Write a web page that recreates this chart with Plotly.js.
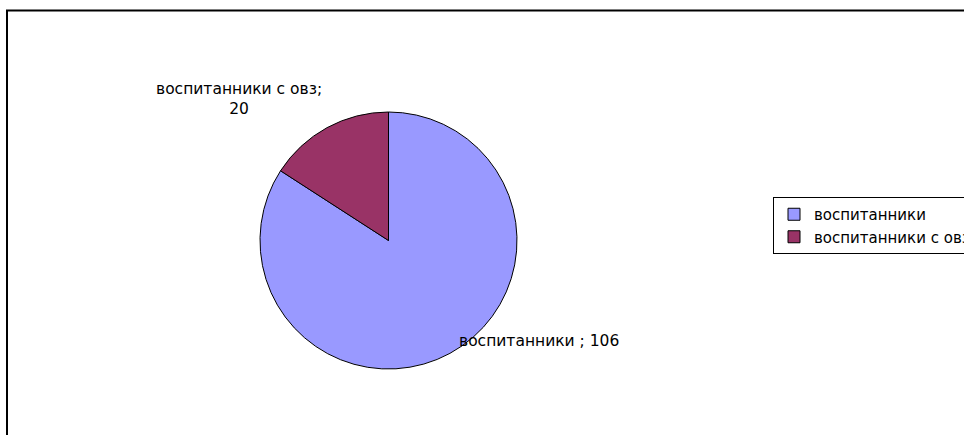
<!DOCTYPE html>
<html>
<head>
<meta charset="utf-8">
<script src="https://cdn.plot.ly/plotly-3.0.1.min.js"></script>
<style>html,body{margin:0;padding:0;background:#fff}#chart{width:964px;height:435px}</style>
</head>
<body>
<div id="chart"></div>
<script>
var categories = ["воспитанники", "воспитанники с овз"];
var labelNames = ["воспитанники ", "воспитанники с овз"];
var values = [106, 20];
var colors = ["#9999FF", "#993366"];

var W = 964, H = 435;
function px(x){return x / W;}
function py(y){return (H - y) / H;}

var cx = 388.5, cy = 240.5, r = 128.5;

var trace = {
  type: "pie",
  labels: categories,
  values: values,
  sort: false,
  direction: "clockwise",
  rotation: 0,
  textinfo: "none",
  hoverinfo: "label+value",
  marker: {colors: colors, line: {color: "#000000", width: 1}},
  domain: {x: [px(cx - r), px(cx + r)], y: [py(cy + r), py(cy - r)]}
};

var annotations = [
  {text: labelNames[0] + "; " + values[0], x: px(538.5), y: py(341)},
  {text: labelNames[1] + ";<br>" + values[1], x: px(239), y: py(99.5)}
].map(function(a){
  return Object.assign({xref: "paper", yref: "paper", showarrow: false,
    xanchor: "center", yanchor: "middle", align: "center",
    font: {family: "DejaVu Sans", size: 15.5, color: "#000"}}, a);
});

var layout = {
  width: W, height: H,
  margin: {l: 0, r: 0, t: 0, b: 0, autoexpand: false},
  paper_bgcolor: "#ffffff",
  showlegend: true,
  legend: {
    x: px(773), y: py(197), xanchor: "left", yanchor: "top",
    bordercolor: "#000000", borderwidth: 1, bgcolor: "#ffffff",
    font: {family: "DejaVu Sans", size: 15, color: "#000"},
    itemwidth: 30, tracegroupgap: 0
  },
  annotations: annotations,
  shapes: [{
    type: "rect", xref: "paper", yref: "paper",
    x0: px(7), x1: px(1000), y0: py(470), y1: py(10.5),
    line: {color: "#000000", width: 2}, fillcolor: "rgba(0,0,0,0)", layer: "below"
  }]
};

Plotly.newPlot("chart", [trace], layout, {displayModeBar: false, staticPlot: true});
</script>
</body>
</html>
